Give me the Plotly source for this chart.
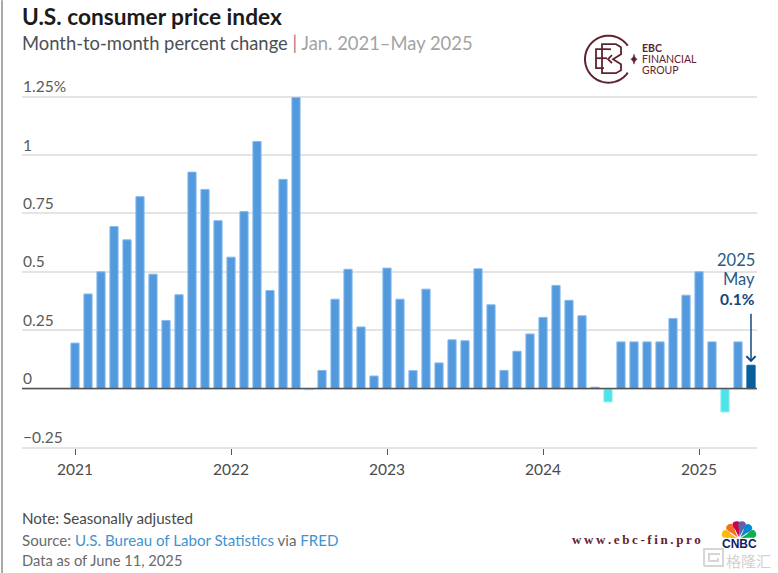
import numpy as np
import plotly.graph_objects as go

# ===================== Data =========================
years = [2021, 2022, 2023, 2024, 2025]
month_names = ["Jan", "Feb", "Mar", "Apr", "May", "Jun", "Jul", "Aug", "Sep", "Oct", "Nov", "Dec"]
months = [f"{y} {m}" for y in years for m in month_names][:53]

cpi_change = [
    0.195, 0.405, 0.50, 0.694, 0.637, 0.822, 0.49, 0.292, 0.402, 0.927, 0.853, 0.719,
    0.563, 0.758, 1.058, 0.42, 0.896, 1.246, -0.005, 0.078, 0.383, 0.511, 0.264, 0.054,
    0.516, 0.383, 0.077, 0.426, 0.11, 0.209, 0.205, 0.513, 0.359, 0.078, 0.16, 0.234,
    0.305, 0.442, 0.378, 0.312, 0.006, -0.057, 0.2, 0.2, 0.2, 0.2, 0.3, 0.4,
    0.5, 0.2, -0.1, 0.2, 0.1,
]

y_ticks = [-0.25, 0, 0.25, 0.5, 0.75, 1, 1.25]
y_labels = ["\u22120.25", "0", "0.25", "0.5", "0.75", "1", "1.25%"]
x_ticks = [f"{y} Jan" for y in years]
x_labels = [str(y) for y in years]

# =================== Layout constants ===================
W, H = 778, 573
UNIT = (447 - 96.5) / 1.5  # pixels per percentage point
Y_TOP = 1.36  # head room so the 1.25% label is not dropped
PLOT_L, PLOT_R, PLOT_B = 22, 757, 447
PLOT_T = PLOT_B - (Y_TOP + 0.25) * UNIT
FONT = "Lato"
MAROON = "#5f2230"

def px(x):
    return (x - PLOT_L) / (PLOT_R - PLOT_L)

def py(y):
    return (PLOT_B - y) / (PLOT_B - PLOT_T)

def poly(points, close=False):
    d = "M " + " L ".join(f"{px(x):.5f} {py(y):.5f}" for x, y in points)
    return d + (" Z" if close else "")

def text(x, y, s, size, color, anchor="left", **kw):
    fig.add_annotation(
        xref="paper", yref="paper", x=px(x), y=py(y), text=s, showarrow=False,
        xanchor=anchor, yanchor="middle", font=dict(family=kw.pop("family", FONT), size=size, color=color),
        borderpad=0, borderwidth=0, **kw
    )

def line_shape(path, color, width, fill=None):
    fig.add_shape(
        type="path", xref="paper", yref="paper", path=path,
        line=dict(color=color, width=width), fillcolor=fill, layer="above"
    )

# =================== Bars ===================
colors = []
edges = []
for m, v in zip(months, cpi_change):
    if m == months[-1]:
        colors.append("#075f9e")
        edges.append("#075f9e")
    elif v < 0:
        colors.append("#4fe3e8")
        edges.append("#86eef0")
    else:
        colors.append("#5299de")
        edges.append("#86bbec")

fig = go.Figure(go.Bar(
    x=months, y=cpi_change, width=0.63,
    marker=dict(color=colors, line=dict(width=1, color=edges)),
    showlegend=False, hoverinfo="x+y"
))

fig.update_layout(
    width=W, height=H,
    margin=dict(l=PLOT_L, r=W - PLOT_R, t=PLOT_T, b=H - PLOT_B, pad=0),
    paper_bgcolor="white", plot_bgcolor="white",
    font=dict(family=FONT, color="#444444"),
    xaxis=dict(
        type="category", categoryorder="array", categoryarray=months,
        range=[(PLOT_L - 75) / 13, (PLOT_R - 75) / 13],
        tickvals=x_ticks, ticktext=x_labels,
        ticks="outside", ticklen=6, tickwidth=1, tickcolor="#555555",
        tickfont=dict(size=15.5, color="#4a4a4a"), ticklabelstandoff=2,
        showgrid=False, showline=True, linecolor="#e4e4e4", linewidth=1.5, zeroline=False,
    ),
    yaxis=dict(
        range=[-0.25, Y_TOP], tickvals=y_ticks, ticktext=y_labels,
        ticklabelposition="inside top", ticklabelshift=1, ticklabelstandoff=-2, ticks="",
        tickfont=dict(size=15.5, color="#5a5a5a"),
        showgrid=True, gridcolor="#e4e4e4", gridwidth=1.5,
        zeroline=False, showline=False,
    ),
)

# zero line drawn over the bars
fig.add_shape(type="line", xref="paper", yref="y", x0=0, x1=1, y0=0, y1=0,
              line=dict(color="#4f5257", width=1.5), layer="above")

# image frame on the left
line_shape(poly([(2, 0), (2, H)]), "#8c8c8c", 1.5)

# =================== Titles & notes ===================
text(22, 16, "<b>U.S. consumer price index</b>", 22.7, "#1b1b1b")
text(22, 43, 'Month-to-month percent change <span style="color:#b9747f">|</span> '
             '<span style="color:#a3a3a3">Jan. 2021\u2013May 2025</span>', 18.4, "#4a4f55")

text(22, 518, "Note: Seasonally adjusted", 15.2, "#4a4a4a")
text(22, 540, 'Source: <span style="color:#3f93d2">U.S. Bureau of Labor Statistics</span> via '
              '<span style="color:#3f93d2">FRED</span>', 15.1, "#6a6a6a")
text(22, 560, "Data as of June 11, 2025", 14.7, "#6a6a6a")

# =================== May 2025 callout ===================
fig.add_annotation(
    x=months[-1], y=cpi_change[-1], xref="x", yref="y", ax=0, ay=-53, axref="pixel", ayref="pixel",
    text="", showarrow=True, arrowhead=4, arrowsize=1.2, arrowwidth=1.5, arrowcolor="#0f4c81", standoff=3
)
text(755, 260, "2025", 16.5, "#2a5a85", anchor="right")
text(755, 279, "May", 16.5, "#2a5a85", anchor="right")
text(755, 299, "<b>0.1%</b>", 15.5, "#12477a", anchor="right")

# =================== EBC logo ===================
angles = np.radians(np.arange(35, 326, 5))
ring = [(608.5 + 23.5 * np.cos(a), 59 - 23.5 * np.sin(a)) for a in angles]
line_shape(poly(ring), MAROON, 2)
line_shape(poly([(607, 49), (596, 49), (596, 68), (604, 68)]), MAROON, 1.8)
line_shape(poly([(596, 58), (607, 58)]), MAROON, 1.8)
line_shape(poly([(602, 49), (602, 73), (616, 73), (621, 70), (621, 64), (613, 59),
                 (621, 54), (621, 47), (616, 44), (602, 44), (602, 49)]), MAROON, 1.8)
line_shape(poly([(607, 49), (611, 49)]), MAROON, 1.8)
line_shape(poly([(612, 55), (608, 59), (612, 63)]), MAROON, 1.8)
line_shape(poly([(631, 59), (633, 57), (634, 54), (635, 57), (637, 59), (635, 61), (634, 64), (633, 61)], close=True),
           MAROON, 0.5, fill=MAROON)
text(642, 48, "<b>EBC</b>", 10.5, MAROON)
text(642, 59, "FINANCIAL", 10.5, MAROON)
text(642, 70, "GROUP", 10.5, MAROON)

text(572, 540, "<b>" + "\u2009".join("www.ebc-fin.pro") + "</b>", 13, MAROON, family="Liberation Serif")

# =================== CNBC peacock & watermark ===================
feather_colors = ["#fcb711", "#f37021", "#cc004c", "#6460aa", "#0089d0", "#0db14b"]
feather_angles = [160, 128, 100, 78, 50, 20]
for color, ang in zip(feather_colors, feather_angles):
    a = np.radians(ang)
    u = np.array([np.cos(a), -np.sin(a)])
    v = np.array([-u[1], u[0]])
    base = np.array([739.0, 539.0]) + u * 2
    t = np.linspace(0, np.pi, 14)
    pts = [base + u * (16 * np.sin(s) ** 0.6) + v * (3.9 * np.sin(2 * s)) for s in t]
    line_shape(poly([tuple(p) for p in pts], close=True), color, 0, fill=color)

text(739, 544.5, "<b>CNBC</b>", 12, "#12205e", anchor="center", family="Liberation Sans")

line_shape(poly([(704, 566), (704, 549), (723, 549), (723, 566), (704, 566)]), "#d6d6d6", 2)
line_shape(poly([(720, 554), (709, 554), (709, 561), (718, 561), (718, 558)]), "#d6d6d6", 2)
text(726, 561, "格隆汇", 15, "#d2d2d2", family="Noto Sans CJK SC")

fig.write_html("out.html", config={"displayModeBar": False},
               post_script="document.body.style.margin='0'")
